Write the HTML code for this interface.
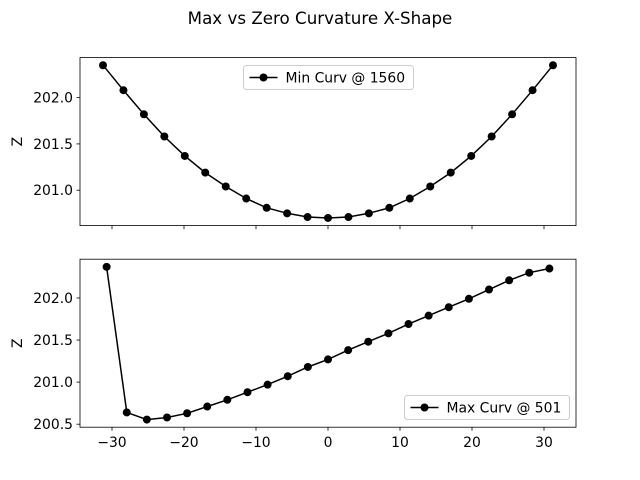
<!DOCTYPE html>
<html><head><meta charset="utf-8"><style>
body{margin:0;background:#fff}
svg{display:block;font-family:"DejaVu Sans","Liberation Sans",sans-serif}
</style></head><body>
<svg id="chart" width="640" height="480">
<text x="320" y="24" text-anchor="middle" font-size="16.7">Max vs Zero Curvature X-Shape</text>
</svg>
<script>
const topY = [202.35,202.08,201.82,201.58,201.37,201.19,201.04,200.91,200.81,200.75,200.71,200.70,200.71,200.75,200.81,200.91,201.04,201.19,201.37,201.58,201.82,202.08,202.35];
const topX = [-31.25,-28.41,-25.57,-22.73,-19.89,-17.05,-14.20,-11.36,-8.52,-5.68,-2.84,0,2.84,5.68,8.52,11.36,14.20,17.05,19.89,22.73,25.57,28.41,31.25];
const botY = [202.37,200.64,200.555,200.58,200.63,200.71,200.79,200.88,200.97,201.07,201.18,201.27,201.38,201.48,201.58,201.69,201.79,201.89,201.99,202.10,202.21,202.30,202.35];
const botX = [-30.75,-27.95,-25.16,-22.36,-19.57,-16.77,-13.98,-11.18,-8.39,-5.59,-2.80,0,2.80,5.59,8.39,11.18,13.98,16.77,19.57,22.36,25.16,27.95,30.75];
const xTicks = [-30,-20,-10,0,10,20,30];
const topYTicks = [201.0,201.5,202.0];
const botYTicks = [200.5,201.0,201.5,202.0];
const topLabel = "Min Curv @ 1560";
const botLabel = "Max Curv @ 501";

const svg = document.getElementById('chart');
const NS = 'http://www.w3.org/2000/svg';
function mk(tag, attrs, parent){const e=document.createElementNS(NS,tag);for(const k in attrs)e.setAttribute(k,attrs[k]);(parent||svg).appendChild(e);return e;}
const L=80,R=576;
const xs = v => 328 + v*7.2;

function panel(name, top, bottom, xv, yv, yTicks, showX, label, legendPos){
  const ymin=Math.min(...yv), ymax=Math.max(...yv), m=(ymax-ymin)*0.05;
  const lo=ymin-m, hi=ymax+m;
  const ys = v => bottom - (v-lo)/(hi-lo)*(bottom-top);
  const g = mk('g',{});
  
  
  yTicks.forEach(t=>{
    const y=ys(t);
    mk('line',{x1:L-3.5,x2:L,y1:y,y2:y,stroke:'#000','stroke-width':0.8},g);
    const tx=mk('text',{x:L-7,y:y+5,'text-anchor':'end','font-size':13.9},g);
    tx.textContent=t.toFixed(1);
    
    
  });
  xTicks.forEach(t=>{
    const x=xs(t);
    mk('line',{x1:x,x2:x,y1:bottom,y2:bottom+3.5,stroke:'#000','stroke-width':0.8},g);
    if(showX){
      const tx=mk('text',{x:x,y:bottom+20,'text-anchor':'middle','font-size':13.9},g);
      tx.textContent=(t<0?'\u2212':'')+Math.abs(t);
      
      
    }
  });
  const yl=mk('text',{x:0,y:0,'text-anchor':'middle','font-size':13.9,transform:`translate(22,${(top+bottom)/2}) rotate(-90)`},g);
  yl.textContent='Z';
  
  
  const pts=xv.map((x,i)=>xs(x).toFixed(1)+','+ys(yv[i]).toFixed(1)).join(' ');
  const pl=mk('polyline',{points:pts,fill:'none',stroke:'#000','stroke-width':1.5},g);
  
  
  xv.forEach((x,i)=>{
    const c=mk('circle',{cx:xs(x),cy:ys(yv[i]),r:4,fill:'#000'},g);
    
    
  });
  mk('rect',{x:L,y:top,width:R-L,height:bottom-top,fill:'none',stroke:'#000','stroke-width':0.8},g);
  const [lx,ly,lw]=legendPos;
  const lg=mk('g',{},g);
  
  
  mk('rect',{x:lx,y:ly,width:lw,height:24,rx:3,fill:'#fff','fill-opacity':0.8,stroke:'#ccc','stroke-width':1},lg);
  mk('line',{x1:lx+6,x2:lx+34,y1:ly+12,y2:ly+12,stroke:'#000','stroke-width':1.5},lg);
  mk('circle',{cx:lx+20,cy:ly+12,r:4,fill:'#000'},lg);
  const lt=mk('text',{x:lx+42,y:ly+17,'font-size':13.9},lg);
  lt.textContent=label;
}
panel('top',57.6,225.6,topX,topY,topYTicks,false,topLabel,[243.5,65.5,170]);
panel('bottom',259.2,427.2,botX,botY,botYTicks,true,botLabel,[404.5,395.5,165]);
</script>
</body></html>
